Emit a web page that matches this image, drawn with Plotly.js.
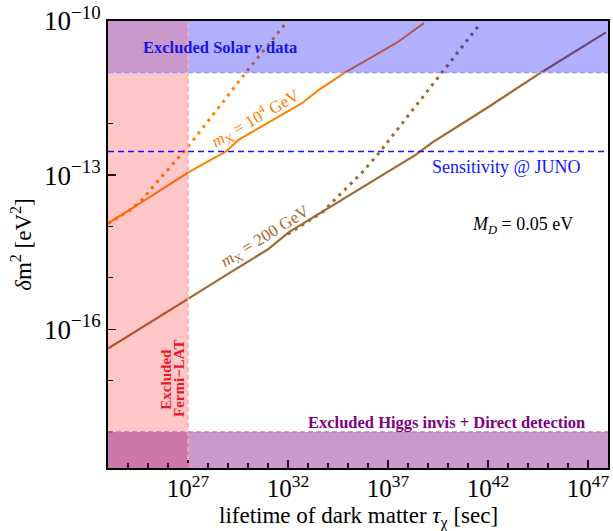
<!DOCTYPE html>
<html>
<head>
<meta charset="utf-8">
<script src="https://cdn.plot.ly/plotly-3.0.1.min.js"></script>
<style>html,body{margin:0;padding:0;background:#fff;}#plot{width:613px;height:531px;}</style>
</head>
<body>
<div id="plot"></div>
<script>
// ---- data ----
// m_X = 10^4 GeV, solid
const tauHeavySolid = [1e23, 1e24, 1e25, 1e26, 1e27, 1e28, 7.9e28, 3.5e29, 3.5e30, 4e31, 5e32, 3.5e33, 1.4e34, 7.9e34, 1.26e36, 2.5e37, 6.3e38];
const dm2HeavySolid = [1.15e-14, 2.0e-14, 3.55e-14, 6.3e-14, 1.12e-13, 1.86e-13, 2.88e-13, 4.9e-13, 8.3e-13, 1.41e-12, 2.51e-12, 4.57e-12, 6.46e-12, 1.02e-11, 1.9e-11, 3.7e-11, 9.1e-11];
// m_X = 10^4 GeV, dotted
const tauHeavyDot = [1e23, 1.12e24, 5e24, 3.5e25, 1e27, 3.16e28, 7.9e29, 7.9e31];
const dm2HeavyDot = [1.15e-14, 2.0e-14, 3.3e-14, 8.1e-14, 3.55e-13, 2.0e-12, 1.0e-11, 9.1e-11];
// m_X = 200 GeV, solid
const tauLightSolid = [1e23, 1e25, 1e27, 1e29, 1e31, 1.12e32, 3.55e36, 2.5e38, 1.6e39, 1e42, 5e44, 7.9e47];
const dm2LightSolid = [4.2e-17, 1.26e-16, 3.9e-16, 1.2e-15, 3.6e-15, 7.8e-15, 8.9e-14, 2.5e-13, 4.3e-13, 2.1e-12, 1.02e-11, 6.0e-11];
// m_X = 200 GeV, dotted
const tauLightDot = [1e32, 6.3e33, 1.58e34, 5e35, 3.55e36, 1e38, 5e39, 3.55e41];
const dm2LightDot = [7.1e-15, 2.0e-14, 2.95e-14, 1.12e-13, 2.7e-13, 1.41e-12, 1.0e-11, 8.3e-11];

// exclusion / sensitivity limits
const solarLimit = [1e-11, 1e-10];     // excluded solar nu data (dm2 band)
const fermiLimit = [1e23, 1e27];       // excluded Fermi-LAT (tau band)
const higgsLimit = [2e-19, 1e-18];     // excluded Higgs invis + DD (dm2 band)
const junoSens = 2.9e-13;              // JUNO sensitivity

const xTickVals = [1e27, 1e32, 1e37, 1e42, 1e47];
const xTickText = ['10<sup>27</sup>', '10<sup>32</sup>', '10<sup>37</sup>', '10<sup>42</sup>', '10<sup>47</sup>'];
const xMinor = [1e23,1e24,1e25,1e26,1e28,1e29,1e30,1e31,1e33,1e34,1e35,1e36,1e38,1e39,1e40,1e41,1e43,1e44,1e45,1e46,1e48];
const yTickVals = [1e-16, 1e-13, 1e-10];
const yTickText = ['10<sup>−16</sup>', '10<sup>−13</sup>', '10<sup>−10</sup>'];
const yMinor = [1e-19, 1e-18, 1e-17, 1e-15, 1e-14, 1e-12, 1e-11];

const ORANGE = 'rgb(255,128,0)';
const BROWN = 'rgb(163,104,46)';
const FONT = 'Liberation Serif, Times New Roman, serif';

const traces = [
  {x: tauHeavyDot, y: dm2HeavyDot, mode: 'lines', line: {color: ORANGE, width: 3, dash: '3px,5px'}},
  {x: tauHeavySolid, y: dm2HeavySolid, mode: 'lines', line: {color: ORANGE, width: 2}},
  {x: tauLightDot, y: dm2LightDot, mode: 'lines', line: {color: BROWN, width: 3, dash: '3px,5px'}},
  {x: tauLightSolid, y: dm2LightSolid, mode: 'lines', line: {color: BROWN, width: 2.2}},
];

const shapes = [
  {type: 'rect', xref: 'paper', yref: 'y', x0: 0, x1: 1, y0: solarLimit[0], y1: solarLimit[1], fillcolor: 'rgba(0,0,255,0.31)', line: {width: 0}, layer: 'above'},
  {type: 'rect', xref: 'x', yref: 'y', x0: fermiLimit[0], x1: fermiLimit[1], y0: higgsLimit[0], y1: solarLimit[0], fillcolor: 'rgba(255,0,0,0.22)', line: {width: 0}, layer: 'above'},
  {type: 'rect', xref: 'x', yref: 'y', x0: fermiLimit[0], x1: fermiLimit[1], y0: solarLimit[0], y1: solarLimit[1], fillcolor: 'rgba(246,118,128,0.4)', line: {width: 0}, layer: 'above'},
  {type: 'rect', xref: 'paper', yref: 'y', x0: 0, x1: 1, y0: higgsLimit[0], y1: higgsLimit[1], fillcolor: 'rgba(128,0,128,0.4)', line: {width: 0}, layer: 'above'},
  {type: 'line', xref: 'paper', yref: 'y', x0: 0, x1: 1, y0: solarLimit[0], y1: solarLimit[0], line: {color: 'rgba(150,150,255,1)', width: 1.5, dash: '5px,3px'}, layer: 'above'},
  {type: 'line', xref: 'x', yref: 'paper', x0: fermiLimit[1], x1: fermiLimit[1], y0: 0, y1: 1, line: {color: 'rgba(255,170,170,1)', width: 1.5, dash: '5px,3px'}, layer: 'above'},
  {type: 'line', xref: 'paper', yref: 'y', x0: 0, x1: 1, y0: higgsLimit[1], y1: higgsLimit[1], line: {color: 'rgba(190,120,190,1)', width: 1.5, dash: '5px,3px'}, layer: 'above'},
  {type: 'line', xref: 'paper', yref: 'y', x0: 0, x1: 1, y0: junoSens, y1: junoSens, line: {color: 'rgb(20,20,255)', width: 1.5, dash: '6px,4px'}, layer: 'above'},
];

const annotations = [
  {xref: 'x', yref: 'y', x: 28.6, y: -10.51, text: '<b>Excluded Solar <i>ν</i> data</b>', showarrow: false, font: {family: FONT, size: 16.5, color: 'rgb(20,20,230)'}},
  {xref: 'x', yref: 'y', x: 30.35, y: -11.89, text: '<i>m</i><sub>X</sub> = 10<sup>4</sup> GeV', showarrow: false, textangle: -30, font: {family: FONT, size: 17, color: ORANGE}},
  {xref: 'x', yref: 'y', x: 30.9, y: -14.2, text: '<i>m</i><sub>X</sub> = 200 GeV', showarrow: false, textangle: -32, font: {family: FONT, size: 17, color: BROWN}},
  {xref: 'x', yref: 'y', x: 42.9, y: -12.84, text: 'Sensitivity @ JUNO', showarrow: false, font: {family: FONT, size: 18, color: 'rgb(20,20,255)'}},
  {xref: 'x', yref: 'y', x: 43.7, y: -13.98, text: '<i>M</i><sub><i>D</i></sub> = 0.05 eV', showarrow: false, font: {family: FONT, size: 18, color: 'black'}},
  {xref: 'x', yref: 'y', x: 25.9, y: -16.98, text: '<b>Excluded</b>', showarrow: false, textangle: -90, font: {family: FONT, size: 15, color: 'rgb(235,20,40)'}},
  {xref: 'x', yref: 'y', x: 26.52, y: -16.96, text: '<b>Fermi−LAT</b>', showarrow: false, textangle: -90, font: {family: FONT, size: 15, color: 'rgb(235,20,40)'}},
  {xref: 'x', yref: 'y', x: 39.9, y: -17.82, text: '<b>Excluded Higgs invis + Direct detection</b>', showarrow: false, font: {family: FONT, size: 16.5, color: 'rgb(128,0,128)'}},
  // x-axis title
  {xref: 'paper', yref: 'paper', x: 0.5, y: -0.148, xanchor: 'center', yanchor: 'bottom', text: 'lifetime of dark matter <i>τ</i><sub>χ</sub> [sec]', showarrow: false, font: {family: FONT, size: 23, color: 'black'}},
];

const layout = {
  width: 613, height: 531,
  margin: {l: 108, r: 5, t: 21, b: 63},
  paper_bgcolor: 'white', plot_bgcolor: 'white',
  showlegend: false,
  font: {family: FONT, color: 'black'},
  xaxis: {
    type: 'log', range: [23, 48],
    tickmode: 'array', tickvals: xTickVals, ticktext: xTickText,
    ticks: 'inside', ticklen: 8, tickwidth: 1.5, tickcolor: 'black',
    ticklabelstandoff: -3,
    minor: {tickmode: 'array', tickvals: xMinor, ticks: 'inside', ticklen: 5, tickwidth: 1.2, tickcolor: 'black', showgrid: false},
    showgrid: false, zeroline: false,
    showline: true, linecolor: 'black', linewidth: 2, mirror: true,
    tickfont: {family: FONT, size: 25, color: 'black'},
  },
  yaxis: {
    type: 'log', range: [-18.7, -10],
    tickmode: 'array', tickvals: yTickVals, ticktext: yTickText,
    ticks: 'inside', ticklen: 8, tickwidth: 1.5, tickcolor: 'black',
    minor: {tickmode: 'array', tickvals: yMinor, ticks: 'inside', ticklen: 5, tickwidth: 1.2, tickcolor: 'black', showgrid: false},
    showgrid: false, zeroline: false,
    showline: true, linecolor: 'black', linewidth: 2, mirror: true,
    tickfont: {family: FONT, size: 27, color: 'black'},
    title: {text: '<i>δ</i>m<sup>2</sup> [eV<sup>2</sup>]', font: {family: FONT, size: 23, color: 'black'}, standoff: 6},
  },
  shapes: shapes,
  annotations: annotations,
};

Plotly.newPlot('plot', traces, layout, {displayModeBar: false, staticPlot: true});
</script>
</body>
</html>
